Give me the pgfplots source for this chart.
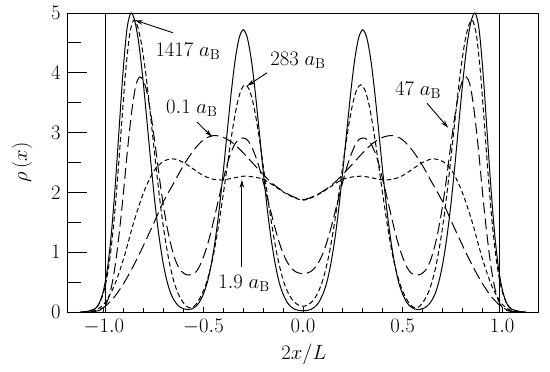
\documentclass[border=0pt]{standalone}
\usepackage{pgfplots}
\pgfplotsset{compat=1.18}
\usetikzlibrary{arrows.meta}
\begin{document}
\begin{tikzpicture}
\pgfplotsset{
  common/.style={
    width=471bp, height=299bp, scale only axis,
    xmin=-1.185, xmax=1.18, ymin=0, ymax=5,
    axis line style={line width=1pt},
    tick align=inside,
    every tick/.style={black, line width=1pt},
    tick label style={font=\fontsize{20.74}{24}\selectfont},
    label style={font=\fontsize{20.74}{24}\selectfont},
  }
}
\begin{axis}[common,
  xtick=\empty,
  ytick={0,1,2,3,4,5},
  minor y tick num=1,
  ytick pos=left,
  major tick length=20bp, minor tick length=14bp,
  yticklabel style={xshift=-3bp},
  ylabel={$\rho\,(x)$},
  ylabel style={at={(axis description cs:-0.0955,0.5)}, anchor=center},
]
\coordinate (sw) at (rel axis cs:0,0);
\coordinate (ne) at (rel axis cs:1,1);
% walls
\addplot[black, line width=0.8pt] coordinates {(-0.99,0) (-0.99,5)};
\addplot[black, line width=0.8pt] coordinates {(0.985,0) (0.985,5)};
% 1417 a_B (solid)
\addplot[black, line width=1pt, smooth] coordinates {
(-1.12,0) (-1.084,0.01) (-1.044,0.055) (-1.024,0.14) (-1.004,0.33) (-0.984,0.68) (-0.964,1.25) (-0.944,2.06) (-0.924,3.03) (-0.904,4.00) (-0.884,4.73) (-0.864,5.00) (-0.844,4.86) (-0.824,4.48) (-0.804,3.90) (-0.784,3.21) (-0.764,2.50) (-0.744,1.84) (-0.724,1.29) (-0.704,0.85) (-0.684,0.53) (-0.664,0.31) (-0.644,0.18) (-0.624,0.10) (-0.604,0.06) (-0.58,0.04) (-0.56,0.05) (-0.54,0.09) (-0.52,0.165) (-0.50,0.30) (-0.48,0.50) (-0.46,0.81) (-0.44,1.22) (-0.42,1.74) (-0.40,2.36) (-0.38,3.03) (-0.36,3.68) (-0.34,4.23) (-0.32,4.59) (-0.30,4.72) (-0.28,4.59) (-0.26,4.23) (-0.24,3.68) (-0.22,3.03) (-0.20,2.36) (-0.18,1.74) (-0.16,1.22) (-0.14,0.81) (-0.12,0.50) (-0.10,0.30) (-0.08,0.165) (-0.06,0.087) (-0.04,0.044) (-0.02,0.025) (0,0.02)
(0.02,0.025) (0.04,0.044) (0.06,0.087) (0.08,0.165) (0.10,0.30) (0.12,0.50) (0.14,0.81) (0.16,1.22) (0.18,1.74) (0.20,2.36) (0.22,3.03) (0.24,3.68) (0.26,4.23) (0.28,4.59) (0.30,4.72) (0.32,4.59) (0.34,4.23) (0.36,3.68) (0.38,3.03) (0.40,2.36) (0.42,1.74) (0.44,1.22) (0.46,0.81) (0.48,0.50) (0.50,0.30) (0.52,0.165) (0.54,0.09) (0.56,0.05) (0.58,0.04) (0.604,0.06) (0.624,0.10) (0.644,0.18) (0.664,0.31) (0.684,0.53) (0.704,0.85) (0.724,1.29) (0.744,1.84) (0.764,2.50) (0.784,3.21) (0.804,3.90) (0.824,4.48) (0.844,4.86) (0.864,5.00) (0.884,4.73) (0.904,4.00) (0.924,3.03) (0.944,2.06) (0.964,1.25) (0.984,0.68) (1.004,0.33) (1.024,0.14) (1.044,0.055) (1.084,0.01) (1.12,0)};
% 283 a_B (short dash)
\addplot[black, line width=1pt, smooth, dash pattern=on 5bp off 3bp] coordinates {
(-1.11,0) (-1.09,0.005) (-1.05,0.043) (-1.03,0.106) (-1.01,0.24) (-0.99,0.48) (-0.97,0.89) (-0.95,1.49) (-0.93,2.28) (-0.91,3.18) (-0.89,4.04) (-0.87,4.65) (-0.85,4.88) (-0.83,4.77) (-0.81,4.46) (-0.79,4.00) (-0.77,3.42) (-0.75,2.80) (-0.73,2.19) (-0.71,1.64) (-0.69,1.18) (-0.67,0.81) (-0.65,0.53) (-0.63,0.33) (-0.61,0.20) (-0.59,0.11) (-0.57,0.07) (-0.55,0.09) (-0.53,0.16) (-0.51,0.28) (-0.49,0.44) (-0.47,0.66) (-0.45,0.95) (-0.43,1.32) (-0.41,1.75) (-0.39,2.21) (-0.37,2.69) (-0.35,3.13) (-0.33,3.49) (-0.31,3.72) (-0.29,3.80) (-0.27,3.72) (-0.25,3.49) (-0.23,3.13) (-0.21,2.69) (-0.19,2.21) (-0.17,1.75) (-0.15,1.32) (-0.13,0.95) (-0.11,0.66) (-0.09,0.44) (-0.07,0.29) (-0.05,0.19) (-0.03,0.13) (-0.01,0.10)
(0.01,0.10) (0.03,0.13) (0.05,0.19) (0.07,0.29) (0.09,0.44) (0.11,0.66) (0.13,0.95) (0.15,1.32) (0.17,1.75) (0.19,2.21) (0.21,2.69) (0.23,3.13) (0.25,3.49) (0.27,3.72) (0.29,3.80) (0.31,3.72) (0.33,3.49) (0.35,3.13) (0.37,2.69) (0.39,2.21) (0.41,1.75) (0.43,1.32) (0.45,0.95) (0.47,0.66) (0.49,0.44) (0.51,0.28) (0.53,0.16) (0.55,0.09) (0.57,0.07) (0.59,0.11) (0.61,0.20) (0.63,0.33) (0.65,0.53) (0.67,0.81) (0.69,1.18) (0.71,1.64) (0.73,2.19) (0.75,2.80) (0.77,3.42) (0.79,4.00) (0.81,4.46) (0.83,4.77) (0.85,4.88) (0.87,4.65) (0.89,4.04) (0.91,3.18) (0.93,2.28) (0.95,1.49) (0.97,0.89) (0.99,0.48) (1.01,0.24) (1.03,0.106) (1.05,0.043) (1.09,0.005) (1.11,0)};
% 47 a_B (long dash)
\addplot[black, line width=1pt, smooth, dash pattern=on 11bp off 5bp] coordinates {
(-1.06,0) (-1.02,0.03) (-1.00,0.08) (-0.98,0.2) (-0.96,0.45) (-0.94,0.85) (-0.92,1.40) (-0.90,2.05) (-0.88,2.75) (-0.86,3.35) (-0.84,3.78) (-0.82,3.93) (-0.80,3.86) (-0.78,3.62) (-0.76,3.22) (-0.74,2.74) (-0.72,2.22) (-0.70,1.76) (-0.68,1.38) (-0.66,1.08) (-0.64,0.86) (-0.62,0.72) (-0.60,0.65) (-0.58,0.62) (-0.56,0.62) (-0.54,0.66) (-0.52,0.76) (-0.50,0.92) (-0.48,1.12) (-0.46,1.37) (-0.44,1.65) (-0.42,1.94) (-0.40,2.22) (-0.38,2.48) (-0.36,2.68) (-0.34,2.82) (-0.32,2.89) (-0.30,2.91) (-0.28,2.88) (-0.26,2.78) (-0.24,2.62) (-0.22,2.42) (-0.20,2.18) (-0.18,1.92) (-0.16,1.66) (-0.14,1.40) (-0.12,1.17) (-0.10,0.98) (-0.08,0.84) (-0.06,0.74) (-0.04,0.68) (-0.02,0.65) (0,0.64)
(0.02,0.65) (0.04,0.68) (0.06,0.74) (0.08,0.84) (0.10,0.98) (0.12,1.17) (0.14,1.40) (0.16,1.66) (0.18,1.92) (0.20,2.18) (0.22,2.42) (0.24,2.62) (0.26,2.78) (0.28,2.88) (0.30,2.91) (0.32,2.89) (0.34,2.82) (0.36,2.68) (0.38,2.48) (0.40,2.22) (0.42,1.94) (0.44,1.65) (0.46,1.37) (0.48,1.12) (0.50,0.92) (0.52,0.76) (0.54,0.66) (0.56,0.62) (0.58,0.62) (0.60,0.65) (0.62,0.72) (0.64,0.86) (0.66,1.08) (0.68,1.38) (0.70,1.76) (0.72,2.22) (0.74,2.74) (0.76,3.22) (0.78,3.62) (0.80,3.86) (0.82,3.93) (0.84,3.78) (0.86,3.35) (0.88,2.75) (0.90,2.05) (0.92,1.40) (0.94,0.85) (0.96,0.45) (0.98,0.2) (1.00,0.08) (1.02,0.03) (1.06,0)};
% 1.9 a_B (short dash)
\addplot[black, line width=1pt, smooth, dash pattern=on 4.5bp off 3bp] coordinates {
(-1.10,0) (-1.05,0.02) (-1.00,0.13) (-0.95,0.42) (-0.90,0.90) (-0.85,1.50) (-0.80,2.00) (-0.75,2.35) (-0.70,2.52) (-0.65,2.56) (-0.60,2.50) (-0.55,2.39) (-0.50,2.28) (-0.45,2.22) (-0.40,2.21) (-0.35,2.24) (-0.30,2.27) (-0.25,2.26) (-0.20,2.22) (-0.15,2.12) (-0.10,2.01) (-0.05,1.92) (0,1.87)
(0.05,1.92) (0.10,2.01) (0.15,2.12) (0.20,2.22) (0.25,2.26) (0.30,2.27) (0.35,2.24) (0.40,2.21) (0.45,2.22) (0.50,2.28) (0.55,2.39) (0.60,2.50) (0.65,2.56) (0.70,2.52) (0.75,2.35) (0.80,2.00) (0.85,1.50) (0.90,0.90) (0.95,0.42) (1.00,0.13) (1.05,0.02) (1.10,0)};
% 0.1 a_B (long dash)
\addplot[black, line width=1pt, smooth, dash pattern=on 12bp off 5bp] coordinates {
(-1.10,0) (-1.05,0.01) (-1.00,0.08) (-0.95,0.24) (-0.90,0.48) (-0.85,0.78) (-0.80,1.12) (-0.75,1.48) (-0.70,1.85) (-0.65,2.15) (-0.60,2.45) (-0.55,2.70) (-0.50,2.88) (-0.45,2.95) (-0.40,2.92) (-0.35,2.82) (-0.30,2.66) (-0.25,2.48) (-0.20,2.30) (-0.15,2.14) (-0.10,2.02) (-0.05,1.93) (0,1.88)
(0.05,1.93) (0.10,2.02) (0.15,2.14) (0.20,2.30) (0.25,2.48) (0.30,2.66) (0.35,2.82) (0.40,2.92) (0.45,2.95) (0.50,2.88) (0.55,2.70) (0.60,2.45) (0.65,2.15) (0.70,1.85) (0.75,1.48) (0.80,1.12) (0.85,0.78) (0.90,0.48) (0.95,0.24) (1.00,0.08) (1.05,0.01) (1.10,0)};
% annotations
\begin{scope}[font=\fontsize{20.74}{24}\selectfont, line width=0.9pt, -{Stealth[length=8bp,width=4.5bp]}]
\node at (axis cs:-0.578,4.36) {$1417\;a_{\mathrm{B}}$};
\draw (axis cs:-0.653,4.67) -- (axis cs:-0.844,4.88);
\node at (axis cs:-0.025,4.21) {$283\;a_{\mathrm{B}}$};
\draw (axis cs:-0.181,4.0) -- (axis cs:-0.281,3.78);
\node at (axis cs:-0.558,3.41) {$0.1\;a_{\mathrm{B}}$};
\draw (axis cs:-0.533,3.18) -- (axis cs:-0.457,2.93);
\node at (axis cs:0.578,3.70) {$47\;a_{\mathrm{B}}$};
\draw (axis cs:0.623,3.49) -- (axis cs:0.729,3.08);
\node at (axis cs:-0.296,0.48) {$1.9\;a_{\mathrm{B}}$};
\draw (axis cs:-0.307,0.75) -- (axis cs:-0.307,2.21);
\end{scope}
\end{axis}
\begin{axis}[common,
  ytick=\empty,
  xtick={-1,-0.5,0,0.5,1},
  xticklabels={$-1.0$,$-0.5$,$0.0$,$0.5$,$1.0$},
  minor x tick num=4,
  xtick pos=bottom,
  major tick length=5bp, minor tick length=4bp,
  xticklabel style={yshift=-4bp},
  xlabel={$2x/L$},
  xlabel style={at={(axis description cs:0.503,-0.14)}, anchor=center},
]
\end{axis}
\pgfresetboundingbox
\path[use as bounding box] ([xshift=-67bp,yshift=-60bp]sw) rectangle ([xshift=12bp,yshift=13bp]ne);
\end{tikzpicture}
\end{document}
